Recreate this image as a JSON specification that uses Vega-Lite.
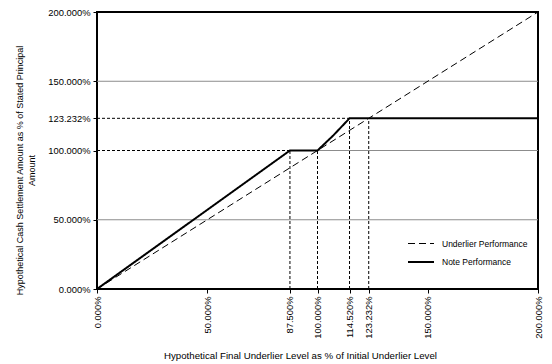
{
  "$schema": "https://vega.github.io/schema/vega-lite/v6.json",
  "width": 441,
  "height": 277,
  "autosize": "none",
  "padding": {"left": 97, "top": 12, "right": 14, "bottom": 75},
  "background": "white",
  "config": {
    "font": "Liberation Sans",
    "view": {"stroke": "black", "strokeWidth": 2},
    "axis": {"labelFont": "Liberation Sans", "titleFont": "Liberation Sans", "labelColor": "black", "titleColor": "black", "tickColor": "black", "labelFontSize": 9.4, "titleFontSize": 9, "titleFontWeight": "normal", "domain": false, "grid": false, "tickSize": 4}
  },
  "datasets": {
    "grid": [
      {"x": 0, "x2": 200, "y": 50, "y2": 50},
      {"x": 0, "x2": 200, "y": 150, "y2": 150},
      {"x": 100, "x2": 200, "y": 100, "y2": 100}
    ],
    "refs": [
      {"x": 0, "x2": 87.5, "y": 100, "y2": 100},
      {"x": 0, "x2": 114.52, "y": 123.232, "y2": 123.232},
      {"x": 87.5, "x2": 87.5, "y": 0, "y2": 100},
      {"x": 100, "x2": 100, "y": 0, "y2": 100},
      {"x": 114.52, "x2": 114.52, "y": 0, "y2": 123.232},
      {"x": 123.232, "x2": 123.232, "y": 0, "y2": 123.232}
    ],
    "lines": [
      {"series": "Underlier Performance", "x": 0, "y": 0},
      {"series": "Underlier Performance", "x": 200, "y": 200},
      {"series": "Note Performance", "x": 0, "y": 0},
      {"series": "Note Performance", "x": 87.5, "y": 100},
      {"series": "Note Performance", "x": 100, "y": 100},
      {"series": "Note Performance", "x": 107, "y": 110.6},
      {"series": "Note Performance", "x": 114.52, "y": 123.232},
      {"series": "Note Performance", "x": 200, "y": 123.232}
    ]
  },
  "encoding": {
    "x": {
      "field": "x", "type": "quantitative",
      "scale": {"domain": [0, 200], "nice": false, "zero": false},
      "axis": {
        "values": [0, 50, 87.5, 100, 114.52, 123.232, 150, 200],
        "labelExpr": "format(datum.value, '.3f') + '%'",
        "labelAngle": -90, "labelOverlap": false, "labelFlush": false, "labelPadding": 3,
        "title": "Hypothetical Final Underlier Level as % of Initial Underlier Level",
        "titleFontSize": 9.7,
        "titleX": 203, "titleY": 66, "titleBaseline": "middle", "titleAnchor": null
      }
    },
    "y": {
      "field": "y", "type": "quantitative",
      "scale": {"domain": [0, 200], "nice": false, "zero": false},
      "axis": {
        "values": [0, 50, 100, 123.232, 150, 200],
        "labelExpr": "format(datum.value, '.3f') + '%'",
        "labelOverlap": false, "labelFlush": false, "labelPadding": 3,
        "title": ["Hypothetical Cash Settlement Amount as % of Stated Principal", "Amount"],
        "titleLineHeight": 12,
        "titleX": -78, "titleY": 158, "titleAngle": -90, "titleAlign": "center", "titleBaseline": "middle"
      }
    }
  },
  "layer": [
    {
      "data": {"name": "grid"},
      "mark": {"type": "rule", "color": "#8c8c8c", "strokeWidth": 1},
      "encoding": {"x2": {"field": "x2"}, "y2": {"field": "y2"}}
    },
    {
      "data": {"name": "refs"},
      "mark": {"type": "rule", "color": "black", "strokeWidth": 1, "strokeDash": [3, 2]},
      "encoding": {"x2": {"field": "x2"}, "y2": {"field": "y2"}}
    },
    {
      "data": {"name": "lines"},
      "mark": {"type": "line", "color": "black"},
      "encoding": {
        "strokeDash": {
          "field": "series", "type": "nominal",
          "scale": {"domain": ["Underlier Performance", "Note Performance"], "range": [[7, 4], [1, 0]]},
          "legend": {
            "orient": "none", "legendX": 310, "legendY": 218, "title": null,
            "symbolType": "stroke", "symbolSize": 676, "symbolStrokeColor": "black",
            "labelFont": "Liberation Sans", "labelFontSize": 8.5, "labelColor": "black",
            "rowPadding": -2, "padding": 0, "labelOffset": 7
          }
        },
        "strokeWidth": {
          "field": "series", "type": "nominal",
          "scale": {"domain": ["Underlier Performance", "Note Performance"], "range": [1, 2]},
          "legend": {
            "orient": "none", "legendX": 310, "legendY": 218, "title": null,
            "symbolType": "stroke", "symbolSize": 676, "symbolStrokeColor": "black",
            "labelFont": "Liberation Sans", "labelFontSize": 8.5, "labelColor": "black",
            "rowPadding": -2, "padding": 0, "labelOffset": 7
          }
        }
      }
    }
  ]
}
